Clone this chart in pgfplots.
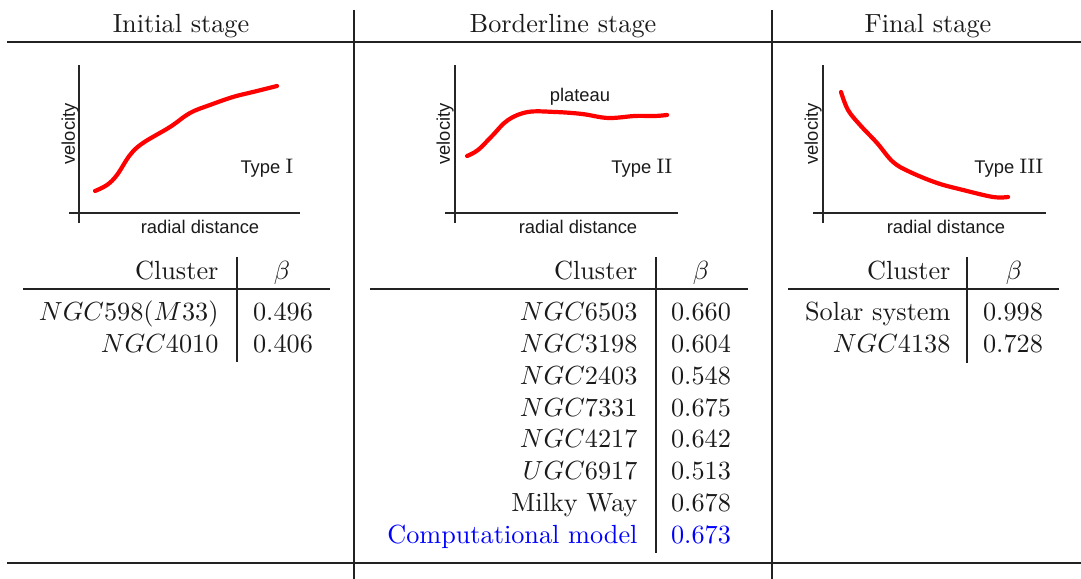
\documentclass[border=0pt]{standalone}
\usepackage{pgfplots}
\pgfplotsset{compat=1.18}
\usepackage{fontspec}
\newfontfamily\arialfont{Liberation Sans}
\definecolor{rulegray}{HTML}{222222}
\definecolor{textgray}{HTML}{1A1A1A}

% small schematic rotation curves, data in pixel offsets from the axis crossing
\pgfplotsset{sketch/.style={
    scale only axis, height=60.2pt,
    axis lines=middle, axis line style={-, line width=0.45pt, black!85},
    xtick=\empty, ytick=\empty, ymin=-10, ymax=148,
    clip=false, anchor=origin},
  curve/.style={red, line width=1.6pt, smooth, tension=0.6, line cap=round, no marks}}

\begin{document}
\begin{tikzpicture}[x=0.381pt,y=-0.381pt, every node/.style={inner sep=0pt, text=textgray}]
\useasboundingbox (0,0) rectangle (1081,579);
\newcommand{\sans}{\arialfont\fontsize{7}{8}\selectfont}

% frame
\draw[line width=0.9pt, rulegray] (7,42) -- (1081,42);
\draw[line width=0.9pt, rulegray] (7,563) -- (1081,563);
\draw[line width=0.9pt, rulegray] (354,10) -- (354,579);
\draw[line width=0.9pt, rulegray] (772,10) -- (772,579);

% headers
\node[anchor=base] at (181,33) {Initial stage};
\node[anchor=base] at (563,33) {Borderline stage};
\node[anchor=base] at (928,33) {Final stage};

% Type I
\begin{axis}[sketch, at={(30.10pt,-81.15pt)}, width=88.0pt, xmin=-10, xmax=221]
\addplot[curve] coordinates {(16,22) (28,28) (38,38) (51,58) (64,70) (91,86) (111,100) (131,108) (154,116) (174,121) (198,127)};
\end{axis}
% Type II
\begin{axis}[sketch, at={(173.36pt,-81.15pt)}, width=88.8pt, xmin=-10, xmax=223]
\addplot[curve] coordinates {(12,57) (23,63) (37,77) (53,93) (73,101) (100,101) (127,99) (153,95) (180,97) (200,97) (212,98)};
\end{axis}
% Type III
\begin{axis}[sketch, at={(313.56pt,-81.15pt)}, width=88.8pt, xmin=-10, xmax=223]
\addplot[curve] coordinates {(18,121) (25,103) (37,88) (54,70) (70,51) (87,41) (114,30) (140,23) (170,16) (185,16)};
\end{axis}

% plot labels
\foreach \vx/\rx in {70/200, 445/578, 813/946} {
  \node[rotate=90, font=\sans] at (\vx,134) {velocity};
  \node[anchor=base, font=\sans] at (\rx,234) {radial distance};
}
\node[anchor=base, font=\sans] at (580,102) {plateau};
\node[anchor=base, font=\sans] at (267,174) {Type {\fontsize{8}{9}\selectfont$\mathrm{I}$}};
\node[anchor=base, font=\sans] at (642,174) {Type {\fontsize{8}{9}\selectfont$\mathrm{II}$}};
\node[anchor=base, font=\sans] at (1009,174) {Type {\fontsize{8}{9}\selectfont$\mathrm{III}$}};

% table 1
\draw[line width=0.7pt, rulegray] (23,289) -- (330,289);
\draw[line width=0.9pt, rulegray] (237,257) -- (237,362);
\node[anchor=base east] at (219,280) {Cluster};
\node[anchor=base] at (282,280) {$\beta$};
\node[anchor=base east] at (219,321) {$NGC598(M33)$};
\node[anchor=base] at (283,321) {$0.496$};
\node[anchor=base east] at (219,352.8) {$NGC4010$};
\node[anchor=base] at (283,352.8) {$0.406$};

% table 2
\draw[line width=0.7pt, rulegray] (370,289) -- (748,289);
\draw[line width=0.9pt, rulegray] (656,257) -- (656,553);
\node[anchor=base east] at (638,280) {Cluster};
\node[anchor=base] at (701,280) {$\beta$};
\foreach \name/\val [count=\i from 0] in {$NGC6503$/0.660, $NGC3198$/0.604, $NGC2403$/0.548,
    $NGC7331$/0.675, $NGC4217$/0.642, $UGC6917$/0.513, Milky Way/0.678} {
  \node[anchor=base east] at (638,320.7+31.8*\i) {\name};
  \node[anchor=base] at (701,320.7+31.8*\i) {$\val$};
}
\node[anchor=base east, text=blue] at (638,543.3) {Computational model};
\node[anchor=base, text=blue] at (701,543.3) {$0.673$};

% table 3
\draw[line width=0.7pt, rulegray] (788,289) -- (1059,289);
\draw[line width=0.9pt, rulegray] (967,257) -- (967,363);
\node[anchor=base east] at (951,280) {Cluster};
\node[anchor=base] at (1014,280) {$\beta$};
\node[anchor=base east] at (951,321) {Solar system};
\node[anchor=base] at (1013,321) {$0.998$};
\node[anchor=base east] at (951,352.8) {$NGC4138$};
\node[anchor=base] at (1013,352.8) {$0.728$};
\end{tikzpicture}
\end{document}
